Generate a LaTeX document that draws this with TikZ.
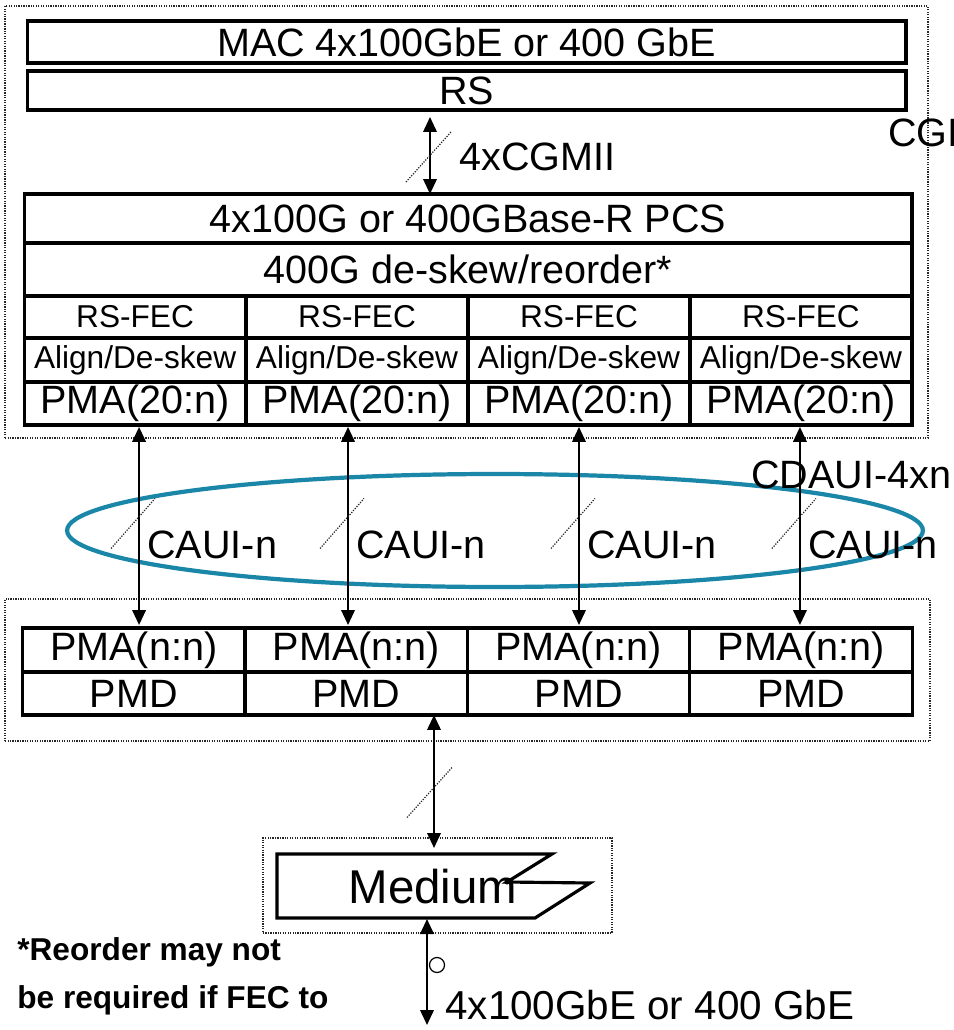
\documentclass[tikz,border=0pt]{standalone}
\usepackage{fontspec}
\setmainfont{Liberation Sans}
\usepackage{tikz}
\usetikzlibrary{arrows.meta,positioning,calc,shapes.geometric}
\definecolor{lnkteal}{HTML}{1A86A8}
\tikzset{
  layer/.style={draw=black, line width=1.8pt, fill=white, outer sep=0pt, inner sep=0pt,
    align=center, font=\fontsize{22.5}{24}\selectfont},
  laycell/.style={layer, minimum width=4.44cm, font=\fontsize{18}{20}\selectfont},
  dotframe/.style={draw=black!85, line width=0.7pt, dash pattern=on 0.7pt off 0.7pt, inner sep=0pt},
  linkarrow/.style={{Triangle[length=3mm,width=2.7mm]}-{Triangle[length=3mm,width=2.7mm]}, line width=1.2pt},
  slashmark/.style={draw=black!85, line width=0.7pt, dash pattern=on 0.7pt off 0.8pt},
  lbl/.style={font=\fontsize{22.5}{24}\selectfont, inner sep=0pt, anchor=west},
  remark/.style={font=\bfseries\fontsize{18}{27.2}\selectfont, align=left, inner sep=0pt, anchor=west}
}

\begin{document}
\begin{tikzpicture}[x=0.02cm, y=-0.02cm, node distance=0pt]
  \useasboundingbox (0,0) rectangle (953,1030);
  \clip (0,0) rectangle (953,1030);

  % upper stack
  \node[dotframe, minimum width=18.46cm, minimum height=8.64cm] (phyframe) at (466.5,222) {};
  \node[layer, minimum width=17.58cm, minimum height=0.84cm] (mac) at (466.5,42) {MAC 4x100GbE or 400 GbE};
  \node[layer, minimum width=17.58cm, minimum height=0.78cm, below=0.16cm of mac] (rs) {RS};
  \node[layer, minimum width=17.76cm, minimum height=0.98cm] (pcs) at (468,218.5) {4x100G or 400GBase-R PCS};
  \node[layer, minimum width=17.76cm, minimum height=1.06cm, below=of pcs] (deskew) {400G de-skew/reorder*};

  \node[laycell, minimum height=0.84cm, anchor=north west] (fec1) at (deskew.south west) {RS-FEC};
  \node[laycell, minimum height=0.88cm, below=of fec1] (align1) {Align/De-skew};
  \node[laycell, minimum height=0.86cm, below=of align1, font=\fontsize{22.5}{24}\selectfont] (pma1) {PMA(20:n)};
  \foreach \i [remember=\i as \j (initially 1)] in {2,3,4} {
    \node[laycell, minimum height=0.84cm, right=of fec\j] (fec\i) {RS-FEC};
    \node[laycell, minimum height=0.88cm, below=of fec\i] (align\i) {Align/De-skew};
    \node[laycell, minimum height=0.86cm, below=of align\i, font=\fontsize{22.5}{24}\selectfont] (pma\i) {PMA(20:n)};
  }

  % CGMII link
  \coordinate (cgup) at ($(rs.south)+(-36.5,0)$);
  \coordinate (cgdn) at (cgup |- pcs.north);
  \draw[linkarrow, shorten <=0.14cm] (cgup) -- (cgdn);
  \draw[slashmark] ($(cgup)!0.5!(cgdn)$) ++(-24,30) -- ++(45,-50);
  \node[lbl] (cgmii) at (459,157) {4xCGMII};
  \node[lbl] (cgi) at (888,133) {CGI};

  % lower stack
  \node[dotframe, minimum width=18.5cm, minimum height=2.84cm] (pmdframe) at (467.5,670) {};
  \node[laycell, minimum width=4.45cm, minimum height=0.88cm, anchor=north west, font=\fontsize{22.5}{24}\selectfont] (pman1) at (22.5,628) {PMA(n:n)};
  \node[laycell, minimum width=4.45cm, minimum height=0.86cm, below=of pman1, font=\fontsize{22.5}{24}\selectfont] (pmd1) {PMD};
  \foreach \i [remember=\i as \j (initially 1)] in {2,3,4} {
    \node[laycell, minimum width=4.45cm, minimum height=0.88cm, right=of pman\j, font=\fontsize{22.5}{24}\selectfont] (pman\i) {PMA(n:n)};
    \node[laycell, minimum width=4.45cm, minimum height=0.86cm, below=of pman\i, font=\fontsize{22.5}{24}\selectfont] (pmd\i) {PMD};
  }

  % CDAUI-4xn group
  \node[draw=lnkteal, line width=2.4pt, ellipse, minimum width=17.12cm, minimum height=2.26cm, inner sep=0pt] (caugroup) at (495,530.5) {};
  \node[lbl] (cdaui) at (751,475) {CDAUI-4xn};
  \foreach \i/\dx in {1/4,2/-9,3/0,4/-1} {
    \coordinate (up\i) at ($(pma\i.south)+(\dx,0)$);
    \coordinate (dn\i) at (up\i |- pman\i.north);
    \draw[linkarrow, shorten <=0.04cm, shorten >=0.06cm] (up\i) -- (dn\i);
    \draw[slashmark] ($(up\i)!0.5!(dn\i)$) ++(-28,22) -- ++(44,-50);
    \node[lbl] (caui\i) at ($(up\i)!0.5!(dn\i)+(8,18)$) {CAUI-n};
  }

  % medium
  \node[dotframe, minimum width=6.98cm, minimum height=1.9cm] (medframe) at (437.5,885.5) {};
  \draw[line width=1.8pt] (277,854) -- (552,854) -- (507,882) -- (590,883) -- (535,918) -- (277,918) -- cycle;
  \fill (507,882) circle (2.5);
  \node[font=\fontsize{27}{30}\selectfont, inner sep=0pt] (medium) at (433,887) {Medium};
  \coordinate (medin) at (434,848);
  \draw[linkarrow] (pmd2.south -| medin) -- (medin);
  \draw[slashmark] ($(pmd2.south -| medin)!0.5!(medin)$) ++(-27,36) -- ++(45,-50);

  \coordinate (medout) at (427,919);
  \coordinate (extend) at (427,1025);
  \draw[linkarrow] (medout) -- (extend);
  \node[draw, circle, line width=0.7pt, minimum size=0.3cm, inner sep=0pt] (ring) at (437,965) {};
  \node[lbl, font=\fontsize{23}{25}\selectfont] (extlbl) at (445,1005) {4x100GbE or 400 GbE};

  \node[remark] (reorder) at (17,976) {*Reorder may not\\be required if FEC to};
\end{tikzpicture}
\end{document}
